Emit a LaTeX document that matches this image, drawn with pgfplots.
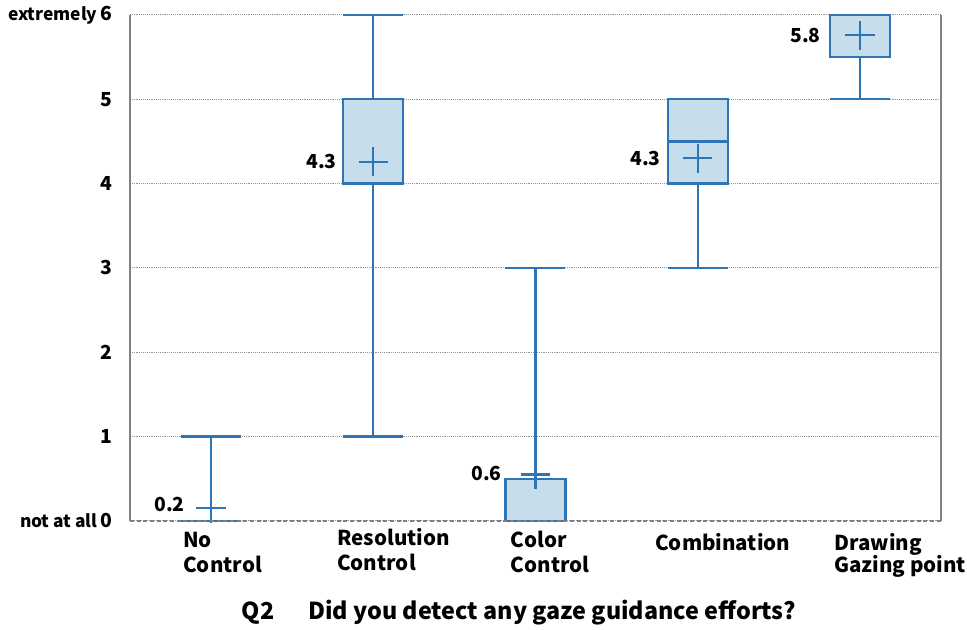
\documentclass[border=0pt]{standalone}
\usepackage{pgfplots}
\pgfplotsset{compat=1.18}
\usepgfplotslibrary{statistics}
\usepackage{fontspec}
\setmainfont{Noto Sans CJK JP}
\definecolor{boxblue}{RGB}{46,117,182}
\definecolor{boxfill}{RGB}{198,221,236}
\definecolor{gridgray}{RGB}{150,150,150}
\begin{document}
\begin{tikzpicture}
\begin{axis}[
  scale only axis,
  width=608.25pt, height=379.5pt,
  xmin=-0.5, xmax=4.5, ymin=0, ymax=6,
  xtick={0,1,2,3,4}, xticklabels={},
  ytick={0,1,2,3,4,5,6},
  yticklabels={{\fontsize{13}{14}\selectfont not at all}\,0,1,2,3,4,5,{\fontsize{13}{14}\selectfont extremely}\,6},
  yticklabel style={font=\fontsize{14.5}{16}\selectfont\bfseries, inner sep=0pt, xshift=-13pt},
  major tick length=0pt,
  ymajorgrids,
  major grid style={gridgray, densely dotted, line width=0.8pt},
  separate axis lines,
  x axis line style={draw=none},
  y axis line style={draw=gray, line width=1pt},
  boxplot/draw direction=y,
  boxplot/every average/.style={/tikz/mark=+, /tikz/mark size=11pt, /tikz/mark options={line width=1.3pt, draw=boxblue, solid}},
  clip=false,
]
\pgfplotsset{bx/.style={solid, draw=boxblue, fill=boxfill, line width=1.7pt, mark=none}}
\addplot+[bx, boxplot prepared={lower whisker=0, lower quartile=0, median=0, upper quartile=0, upper whisker=1, average=0.15, draw position=0, box extend=0.37, whisker extend=0.37}] coordinates {};
\addplot+[bx, boxplot prepared={lower whisker=1, lower quartile=4, median=4, upper quartile=5, upper whisker=6, average=4.26, draw position=1, box extend=0.37, whisker extend=0.37}] coordinates {};
\addplot+[bx, boxplot prepared={lower whisker=0, lower quartile=0, median=0, upper quartile=0.5, upper whisker=3, average=0.55, draw position=2, box extend=0.37, whisker extend=0.37}] coordinates {};
\addplot+[bx, boxplot prepared={lower whisker=3, lower quartile=4, median=4.5, upper quartile=5, upper whisker=5, average=4.3, draw position=3, box extend=0.37, whisker extend=0.37}] coordinates {};
\addplot+[bx, boxplot prepared={lower whisker=5, lower quartile=5.5, median=6, upper quartile=6, upper whisker=6, average=5.76, draw position=4, box extend=0.37, whisker extend=0.37}] coordinates {};

\draw[gray, densely dashed, line width=1pt] (rel axis cs:0,0) -- (rel axis cs:1,0);

\tikzset{ml/.style={anchor=east, inner sep=0pt, font=\fontsize{14.5}{16}\selectfont\bfseries}}
\node[ml] at (axis cs:-0.161,0.19) {0.2};
\node[ml] at (axis cs:0.776,4.26) {4.3};
\node[ml] at (axis cs:1.793,0.56) {0.6};
\node[ml] at (axis cs:2.774,4.3) {4.3};
\node[ml] at (axis cs:3.760,5.76) {5.8};

\tikzset{cl/.style={anchor=base west, inner sep=0pt, font=\fontsize{15.4}{17}\selectfont\bfseries}}
\node[cl] at ({axis cs:-0.173,0} |- {rel axis cs:0,-0.0524}) {No};
\node[cl] at ({axis cs:-0.173,0} |- {rel axis cs:0,-0.1018}) {Control};
\node[cl] at ({axis cs:0.776,0} |- {rel axis cs:0,-0.0485}) {Resolution};
\node[cl] at ({axis cs:0.776,0} |- {rel axis cs:0,-0.0988}) {Control};
\node[cl] at ({axis cs:1.847,0} |- {rel axis cs:0,-0.0524}) {Color};
\node[cl] at ({axis cs:1.847,0} |- {rel axis cs:0,-0.1018}) {Control};
\node[cl] at ({axis cs:2.737,0} |- {rel axis cs:0,-0.0575}) {Combination};
\node[cl] at ({axis cs:3.841,0} |- {rel axis cs:0,-0.0575}) {Drawing};
\node[cl] at ({axis cs:3.841,0} |- {rel axis cs:0,-0.1018}) {Gazing point};

\node[anchor=base west, inner sep=0pt, font=\fontsize{17.5}{19}\selectfont\bfseries] at (rel axis cs:0.1377,-0.1947) {Q2\hspace{1.45em}Did you detect any gaze guidance efforts?};

\coordinate (bbl) at (rel axis cs:-0.1603,-0.2154);
\coordinate (btr) at (rel axis cs:1.0321,1.0296);
\end{axis}
\pgfresetboundingbox
\useasboundingbox (bbl) rectangle (btr);
\end{tikzpicture}
\end{document}
